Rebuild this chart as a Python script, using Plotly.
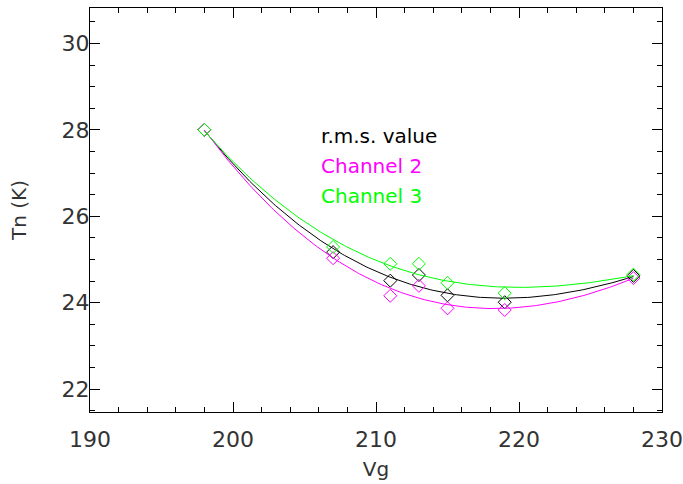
import numpy as np
import plotly.graph_objects as go

# Gate voltage settings and measured noise temperatures
vg = [198, 207, 211, 213, 215, 219, 228]
tn_rms = [28.00, 25.17, 24.51, 24.64, 24.17, 24.01, 24.62]
tn_ch2 = [28.00, 25.03, 24.16, 24.39, 23.87, 23.83, 24.57]
tn_ch3 = [28.00, 25.29, 24.90, 24.90, 24.46, 24.22, 24.65]

series_names = ["r.m.s. value", "Channel 2", "Channel 3"]
series_colors = ["#000000", "#ff00ff", "#00ff00"]

x_ticks = [190, 200, 210, 220, 230]
y_ticks = [22, 24, 26, 28, 30]

FONT = "DejaVu Sans"
TEXT_COLOR = "#333333"

fig = go.Figure()
xfine = np.linspace(min(vg), max(vg), 200)
for name, vals, col in zip(series_names, [tn_rms, tn_ch2, tn_ch3], series_colors):
    # cubic least-squares fit through the measurements
    coeffs = np.polyfit(vg, vals, 3)
    fig.add_trace(go.Scatter(x=xfine, y=np.polyval(coeffs, xfine), mode="lines",
                             line=dict(color=col, width=1), showlegend=False,
                             hoverinfo="skip"))
    fig.add_trace(go.Scatter(x=vg, y=vals, mode="markers", name=name,
                             marker=dict(symbol="diamond-open", size=10,
                                         color=col, line=dict(width=1, color=col)),
                             showlegend=False))

# Series labels placed inside the plot area
label_y = [27.86, 27.17, 26.48]
for name, col, yy in zip(series_names, series_colors, label_y):
    fig.add_annotation(x=206.0, y=yy, xref="x", yref="y", text=name,
                       showarrow=False, xanchor="left", yanchor="middle",
                       font=dict(family=FONT, size=20, color=col))

axis_common = dict(showgrid=False, zeroline=False, showline=True, mirror="allticks",
                   linecolor="black", linewidth=1, ticks="inside", ticklen=10,
                   tickcolor="black", tickwidth=1, automargin=False,
                   tickfont=dict(family=FONT, size=22, color=TEXT_COLOR))

fig.update_xaxes(range=[190, 230], tickvals=x_ticks,
                 ticktext=[str(v) for v in x_ticks],
                 minor=dict(dtick=2, ticks="inside", ticklen=5, tickcolor="black"),
                 title=dict(text="Vg", font=dict(family=FONT, size=20, color=TEXT_COLOR),
                            standoff=10),
                 ticklabelstandoff=8, **axis_common)
fig.update_yaxes(range=[21.47, 30.82], tickvals=y_ticks,
                 ticktext=[str(v) for v in y_ticks],
                 minor=dict(dtick=0.5, ticks="inside", ticklen=5, tickcolor="black"),
                 title=dict(text="Tn (K)", font=dict(family=FONT, size=20, color=TEXT_COLOR),
                            standoff=29),
                 ticklabelstandoff=-5, **axis_common)

fig.update_layout(width=683, height=484, margin=dict(l=90, r=21, t=8, b=72),
                  plot_bgcolor="white", paper_bgcolor="white")

fig.write_html("out.html")
